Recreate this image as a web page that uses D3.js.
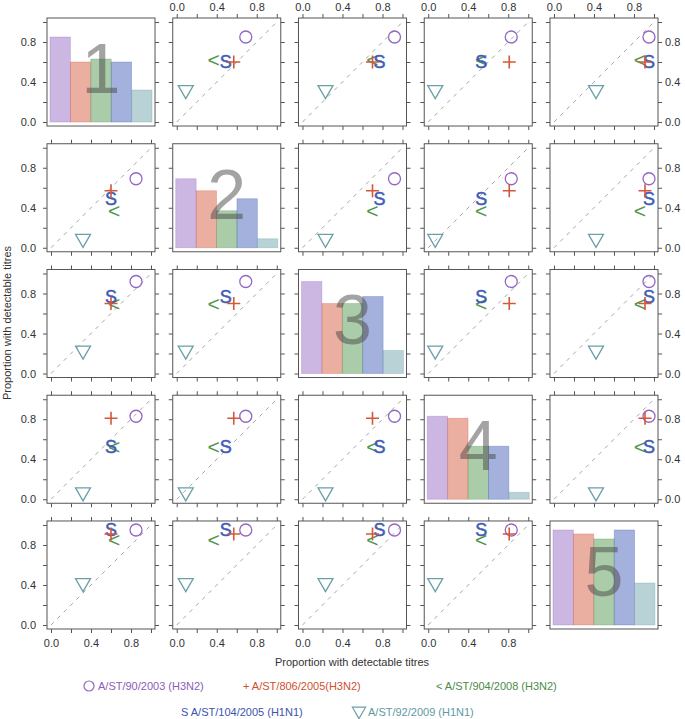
<!DOCTYPE html>
<html>
<head>
<meta charset="utf-8">
<script src="https://cdn.jsdelivr.net/npm/d3@7"></script>
<style>
  body { margin: 0; background: #fff; }
  text { font-family: "Liberation Sans", Arial, sans-serif; }
</style>
</head>
<body>
<div id="chart"></div>
<script>
// ── data ───────────────────────────────────────────────────────────────
const groups  = ['1', '2', '3', '4', '5'];
const strains = ['A/ST/90/2003 (H3N2)', 'A/ST/806/2005(H3N2)', 'A/ST/904/2008 (H3N2)',
                 'A/ST/104/2005 (H1N1)', 'A/ST/92/2009 (H1N1)'];

// proportion with detectable titres, one value per group
const st90_2003  = [0.85, 0.69, 0.92, 0.83, 0.95];
const st806_2005 = [0.60, 0.57, 0.70, 0.81, 0.91];
const st904_2008 = [0.63, 0.37, 0.70, 0.53, 0.86];
const st104_2005 = [0.60, 0.49, 0.77, 0.53, 0.95];
const st92_2009  = [0.32, 0.09, 0.23, 0.07, 0.42];

const tickValues = [0, 0.2, 0.4, 0.6, 0.8, 1.0];
const tickLabels = ['0.0', '0.4', '0.8'];
const axisTitle  = 'Proportion with detectable titres';

// ── setup ──────────────────────────────────────────────────────────────
const width = 685, height = 719;
const series = [st90_2003, st806_2005, st904_2008, st104_2005, st92_2009];
const colors = ['#9466c2', '#d5573a', '#4f954c', '#3f5cb6', '#6aa0a8'];
const textColors = ['#8a5db8', '#cf4f30', '#4a8c47', '#3a55ad', '#5e9aa2'];

const svg = d3.select('#chart').append('svg')
  .attr('xmlns', 'http://www.w3.org/2000/svg')
  .attr('viewBox', [0, 0, width, height])
  .attr('width', width)
  .attr('height', height);

svg.append('rect').attr('width', width).attr('height', height).attr('fill', '#fff');

const colBand = d3.scaleBand().domain(d3.range(5)).range([47, 658]).paddingInner(0.141);
const rowBand = d3.scaleBand().domain(d3.range(5)).range([18, 629]).paddingInner(0.141);
const bw = colBand.bandwidth();

const x = d3.scaleLinear().domain([-0.04, 1.04]).range([0, bw]);
const y = d3.scaleLinear().domain([-0.04, 1.04]).range([bw, 0]);
const barX = d3.scaleBand().domain(d3.range(5)).range([3, bw - 3]);

const fmt = d => { const s = d.toFixed(1); return tickLabels.includes(s) ? s : ''; };
const noLab = () => '';

function styleAxis(g) {
  g.select('.domain').remove();
  g.selectAll('.tick line').attr('stroke', '#555');
  g.selectAll('.tick text').attr('fill', '#333').attr('font-size', 11)
    .attr('font-family', '"Liberation Sans", Arial, sans-serif');
}

// ── panels ─────────────────────────────────────────────────────────────
const symbolCircle = d3.symbol().type(d3.symbolCircle).size(Math.PI * 36);
const symbolTri    = d3.symbol().type(d3.symbolTriangle).size(97);

for (let r = 0; r < 5; r++) {
  for (let c = 0; c < 5; c++) {
    const g = svg.append('g')
      .attr('transform', `translate(${colBand(c)},${rowBand(r)})`);

    if (r === c) {
      // bars for this group
      g.selectAll('rect.bar')
        .data(series.map((s, i) => ({ i, v: s[r] })))
        .join('rect')
        .attr('class', 'bar')
        .attr('x', d => barX(d.i))
        .attr('width', barX.bandwidth())
        .attr('y', d => y(d.v))
        .attr('height', d => y(0) - y(d.v))
        .attr('fill', d => colors[d.i])
        .attr('fill-opacity', 0.48)
        .attr('stroke', d => colors[d.i])
        .attr('stroke-opacity', 0.35)
        .attr('stroke-width', 0.8);

      g.append('text')
        .attr('x', bw / 2)
        .attr('y', 75)
        .attr('text-anchor', 'middle')
        .attr('font-size', 70)
        .attr('fill', '#484848')
        .attr('fill-opacity', 0.5)
        .text(groups[r]);
    } else {
      // identity line
      g.append('path')
        .attr('d', d3.line()([[x(0), y(0)], [x(1), y(1)]]))
        .attr('stroke', '#a6a6a6')
        .attr('stroke-width', 1)
        .attr('stroke-dasharray', '4,5')
        .attr('fill', 'none');

      const px = i => x(series[i][c]);
      const py = i => y(series[i][r]);

      // circle
      g.append('path')
        .attr('d', symbolCircle())
        .attr('transform', `translate(${px(0)},${py(0)})`)
        .attr('fill', 'none').attr('stroke', colors[0]).attr('stroke-width', 1.3);
      // <
      g.append('text')
        .attr('x', px(2)).attr('y', py(2))
        .attr('text-anchor', 'middle').attr('dy', '0.36em')
        .attr('font-size', 21).attr('fill', colors[2])
        .text('<');
      // S
      g.append('text')
        .attr('x', px(3)).attr('y', py(3))
        .attr('text-anchor', 'middle').attr('dy', '0.36em')
        .attr('font-size', 18).attr('fill', colors[3])
        .attr('stroke', colors[3]).attr('stroke-width', 0.5)
        .text('S');
      // +
      g.append('path')
        .attr('d', 'M-6.5,0H6.5M0,-6.5V6.5')
        .attr('transform', `translate(${px(1)},${py(1)})`)
        .attr('stroke', colors[1]).attr('stroke-width', 1.6).attr('fill', 'none');
      // triangle (point down)
      g.append('path')
        .attr('d', symbolTri())
        .attr('transform', `translate(${px(4)},${py(4)}) rotate(180)`)
        .attr('fill', 'none').attr('stroke', colors[4]).attr('stroke-width', 1.3);
    }

    // frame
    g.append('rect')
      .attr('width', bw).attr('height', bw)
      .attr('fill', 'none').attr('stroke', '#555').attr('stroke-width', 1);

    // ticks
    g.append('g')
      .call(d3.axisLeft(y).tickValues(tickValues).tickSize(4).tickPadding(7)
        .tickFormat(c === 0 ? fmt : noLab))
      .call(styleAxis);
    g.append('g')
      .attr('transform', `translate(${bw},0)`)
      .call(d3.axisRight(y).tickValues(tickValues).tickSize(4).tickPadding(3)
        .tickFormat(c === 4 && r < 4 ? fmt : noLab))
      .call(styleAxis);
    if (r !== c) {
      g.append('g')
        .call(d3.axisTop(x).tickValues(tickValues).tickSize(4).tickPadding(3)
          .tickFormat(r === 0 ? fmt : noLab))
        .call(styleAxis);
      g.append('g')
        .attr('transform', `translate(0,${bw})`)
        .call(d3.axisBottom(x).tickValues(tickValues).tickSize(4).tickPadding(6)
          .tickFormat(r === 4 ? fmt : noLab))
        .call(styleAxis);
    }
  }
}

// ── axis titles ────────────────────────────────────────────────────────
svg.append('text')
  .attr('x', 352).attr('y', 666)
  .attr('text-anchor', 'middle')
  .attr('font-size', 11).attr('fill', '#333')
  .text(axisTitle);

svg.append('text')
  .attr('transform', 'translate(11,323) rotate(-90)')
  .attr('text-anchor', 'middle')
  .attr('font-size', 11).attr('fill', '#333')
  .text(axisTitle);

// ── legend ─────────────────────────────────────────────────────────────
const legend = svg.append('g').attr('font-size', 11);

legend.append('path')
  .attr('d', d3.symbol().type(d3.symbolCircle).size(Math.PI * 25)())
  .attr('transform', 'translate(89,686)')
  .attr('fill', 'none').attr('stroke', colors[0]).attr('stroke-width', 1.2);
legend.append('text').attr('x', 98).attr('y', 690).attr('fill', textColors[0]).text(strains[0]);

legend.append('text').attr('x', 243).attr('y', 690).attr('fill', textColors[1]).text('+ ' + strains[1]);
legend.append('text').attr('x', 436).attr('y', 690).attr('fill', textColors[2]).text('< ' + strains[2]);

legend.append('text').attr('x', 181).attr('y', 716).attr('fill', textColors[3]).text('S ' + strains[3]);

legend.append('path')
  .attr('d', d3.symbol().type(d3.symbolTriangle).size(75)())
  .attr('transform', 'translate(359,711) rotate(180)')
  .attr('fill', 'none').attr('stroke', colors[4]).attr('stroke-width', 1.2);
legend.append('text').attr('x', 368).attr('y', 716).attr('fill', textColors[4]).text(strains[4]);
</script>
</body>
</html>
